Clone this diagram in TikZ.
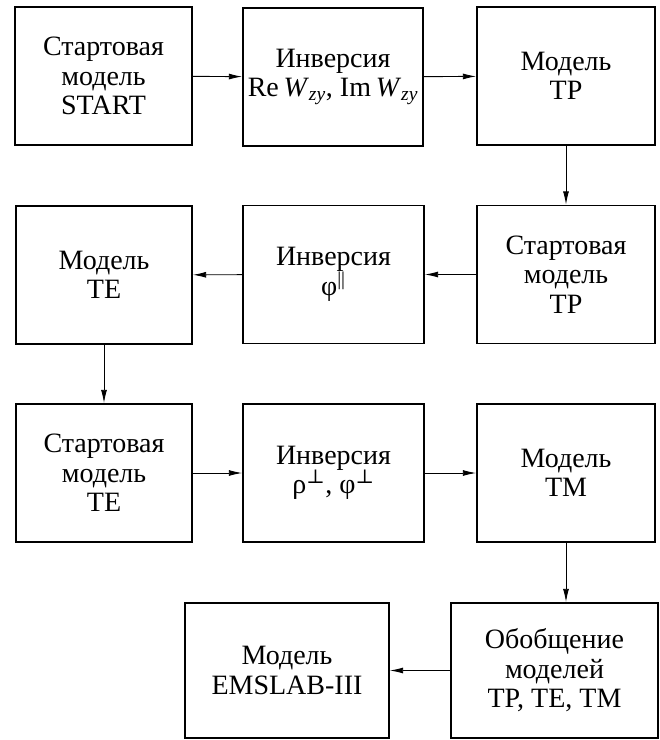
\documentclass[tikz,border=0pt]{standalone}
\usepackage{fontspec}
\setmainfont{Liberation Serif}
\newfontfamily\symfont{DejaVu Serif}
\usetikzlibrary{arrows.meta}
\newcommand{\perpsym}{\textsuperscript{{\symfont ⊥}}}
\begin{document}
\begin{tikzpicture}[x=0.75pt,y=-0.75pt,
  blk/.style={draw,line width=1.3pt,align=center,inner sep=0pt,
    font=\fontsize{21}{22.2}\selectfont,minimum height=#1},
  blk/.default={103.5pt},
  conn/.style={line width=0.7pt,-{Latex[length=10pt,width=4.5pt]}}]
\useasboundingbox (0,0) rectangle (660,740);
\node[blk,minimum width=132.75pt] (b1) at (103.5,76) {Стартовая\\модель\\START};
\node[blk,minimum width=135pt] (b2) at (333,77) {Инверсия\\Re\,\textit{W}\textsubscript{\textit{zy}}, Im\,\textit{W}\textsubscript{\textit{zy}}};
\node[blk,minimum width=133.5pt] (b3) at (566,76) {Модель\\TP};
\node[blk,minimum width=133.5pt] (b4) at (566,274.5) {Стартовая\\модель\\TP};
\node[blk,minimum width=135.75pt] (b5) at (333.5,274.5) {Инверсия\\φ\textsuperscript{||}};
\node[blk,minimum width=132pt] (b6) at (104,275) {Модель\\TE};
\node[blk,minimum width=132pt] (b7) at (104,473) {Стартовая\\модель\\TE};
\node[blk,minimum width=135.75pt] (b8) at (333.5,473) {Инверсия\\ρ\perpsym, φ\perpsym};
\node[blk,minimum width=133.5pt] (b9) at (566,473) {Модель\\TM};
\node[blk=101.25pt,minimum width=153pt] (b10) at (287,670.5) {Модель\\EMSLAB-III};
\node[blk=101.25pt,minimum width=155.25pt] (b11) at (554.5,670.5) {Обобщение\\моделей\\TP, TE, TM};
\draw[conn] (b1) -- (b2);
\draw[conn] (b2) -- (b3);
\draw[conn] (b3) -- (b4);
\draw[conn] (b4) -- (b5);
\draw[conn] (b5) -- (b6);
\draw[conn] (b6) -- (b7);
\draw[conn] (b7) -- (b8);
\draw[conn] (b8) -- (b9);
\draw[conn] (b9.south) -- (b9.south |- b11.north);
\draw[conn] (b11) -- (b10);
\end{tikzpicture}
\end{document}
